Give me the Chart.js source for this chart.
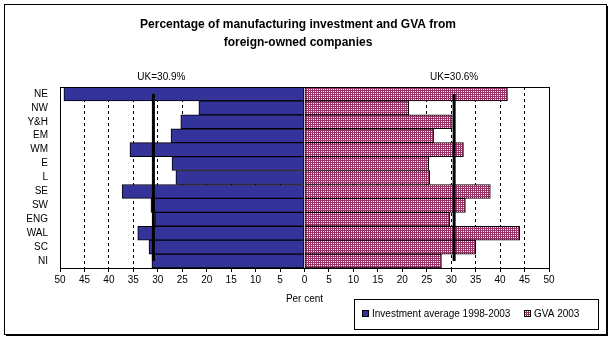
<!DOCTYPE html>
<html>
<head>
<meta charset="utf-8">
<script src="https://cdn.jsdelivr.net/npm/chart.js@4.4.0/dist/chart.umd.min.js"></script>
<style>
  html, body { margin: 0; padding: 0; background: #fff; }
  canvas { display: block; }
</style>
</head>
<body>
<canvas id="chart" width="613" height="340"></canvas>
<script>
// Foreign-owned share of manufacturing investment vs GVA, by region (%)
const regions = ['NE', 'NW', 'Y&H', 'EM', 'WM', 'E', 'L', 'SE', 'SW', 'ENG', 'WAL', 'SC', 'NI'];
const investment = [49.2, 21.6, 25.3, 27.3, 35.7, 27.1, 26.3, 37.3, 31.4, 30.6, 34.1, 31.8, 31.2];
const gva = [41.5, 21.3, 30.2, 26.4, 32.5, 25.4, 25.6, 38.0, 32.9, 29.7, 44.0, 35.0, 28.0];
const ukInvestment = 30.9;
const ukGva = 30.6;
const seriesNames = ['Investment average 1998-2003', 'GVA 2003'];
const titleLines = ['Percentage of manufacturing investment and GVA from', 'foreign-owned companies'];

const BLUE = '#333399';
const PLUM = '#993366';
const FONT = 'Arial, "Liberation Sans", sans-serif';

const canvas = document.getElementById('chart');
const ctx = canvas.getContext('2d');

// dotted plum fill for the GVA bars (one white pixel per 2x2 cell)
function dotted() {
  const c = document.createElement('canvas');
  c.width = 2; c.height = 2;
  const g = c.getContext('2d');
  g.fillStyle = PLUM;
  g.fillRect(0, 0, 2, 2);
  g.fillStyle = '#fff';
  g.fillRect(1, 1, 1, 1);
  return ctx.createPattern(c, 'repeat');
}
const gvaFill = dotted();

const decor = {
  id: 'decor',
  afterDatasetsDraw(chart) {
    const { ctx: c, chartArea: a, scales: { x, y } } = chart;
    c.save();
    // plot frame
    c.strokeStyle = '#000';
    c.lineWidth = 1;
    c.strokeRect(Math.round(a.left) + 0.5, Math.round(a.top) + 0.5,
      Math.round(a.right - a.left), Math.round(a.bottom - a.top));

    // UK average markers
    const y1 = y.getPixelForValue(0);
    const y2 = y.getPixelForValue(regions.length - 1);
    c.lineWidth = 3;
    c.font = '10px ' + FONT;
    c.fillStyle = '#000';
    c.textAlign = 'center';
    c.textBaseline = 'middle';
    [[-ukInvestment, 8], [ukGva, 0]].forEach(([v, dx]) => {
      const px = x.getPixelForValue(v);
      c.beginPath();
      c.moveTo(px, y1);
      c.lineTo(px, y2);
      c.stroke();
      c.fillText('UK=' + Math.abs(v).toFixed(1) + '%', px + dx, 77);
    });
    c.restore();
  },
  afterDraw(chart) {
    const c = chart.ctx;
    c.save();
    c.fillStyle = '#000';
    c.textAlign = 'center';
    c.textBaseline = 'middle';
    c.font = 'bold 12px ' + FONT;
    titleLines.forEach((t, i) => c.fillText(t, 298, 25 + i * 18));

    // legend
    c.strokeStyle = '#000';
    c.lineWidth = 1;
    c.strokeRect(354.5, 299.5, 244, 30);
    c.font = '10px ' + FONT;
    c.textAlign = 'left';
    const items = [[BLUE, seriesNames[0], 362], [gvaFill, seriesNames[1], 524]];
    items.forEach(([fill, label, lx]) => {
      c.fillStyle = fill;
      c.fillRect(lx, 310, 7, 7);
      c.strokeRect(lx + 0.5, 310.5, 6, 6);
      c.fillStyle = '#000';
      c.fillText(label, lx + 10, 314);
    });

    // outer frame, heavier on the right and bottom edges
    c.strokeRect(4.5, 4.5, 602, 330);
    c.fillStyle = '#000';
    c.fillRect(607, 6, 1, 330);
    c.fillRect(6, 335, 602, 1);
    c.restore();
  }
};

new Chart(canvas, {
  type: 'bar',
  data: {
    labels: regions,
    datasets: [
      {
        label: seriesNames[0],
        data: investment.map(v => -v),
        backgroundColor: BLUE,
        borderColor: '#000',
        borderWidth: 1,
        borderSkipped: false
      },
      {
        label: seriesNames[1],
        data: gva,
        backgroundColor: gvaFill,
        borderColor: '#000',
        borderWidth: 1,
        borderSkipped: false
      }
    ]
  },
  options: {
    responsive: false,
    animation: false,
    indexAxis: 'y',
    barPercentage: 1,
    categoryPercentage: 1,
    layout: { padding: { top: 87, left: 10, right: 64, bottom: 35 } },
    plugins: {
      legend: { display: false },
      title: { display: false },
      tooltip: { enabled: false }
    },
    scales: {
      x: {
        stacked: true,
        min: -50,
        max: 50,
        afterFit: s => { s.height = 37; },
        ticks: {
          stepSize: 5,
          autoSkip: false,
          maxRotation: 0,
          padding: 2,
          color: '#000',
          font: { family: FONT, size: 10 },
          callback: v => Math.abs(v)
        },
        grid: {
          color: c => (c.tick && (c.tick.value === 0 || Math.abs(c.tick.value) === 50)) ? 'rgba(0,0,0,0)' : '#000',
          tickColor: '#000',
          tickLength: 4,
          lineWidth: 1
        },
        border: { display: true, color: '#000', width: 1, dash: [3, 3] },
        title: {
          display: true,
          text: 'Per cent',
          color: '#000',
          padding: 0,
          font: { family: FONT, size: 10 }
        }
      },
      y: {
        stacked: true,
        afterFit: s => { s.width = 50; },
        grid: { display: false },
        border: { display: true, color: '#000', width: 1 },
        ticks: {
          autoSkip: false,
          padding: 4,
          color: '#000',
          font: { family: FONT, size: 10 }
        }
      }
    }
  },
  plugins: [decor]
});
</script>
</body>
</html>
